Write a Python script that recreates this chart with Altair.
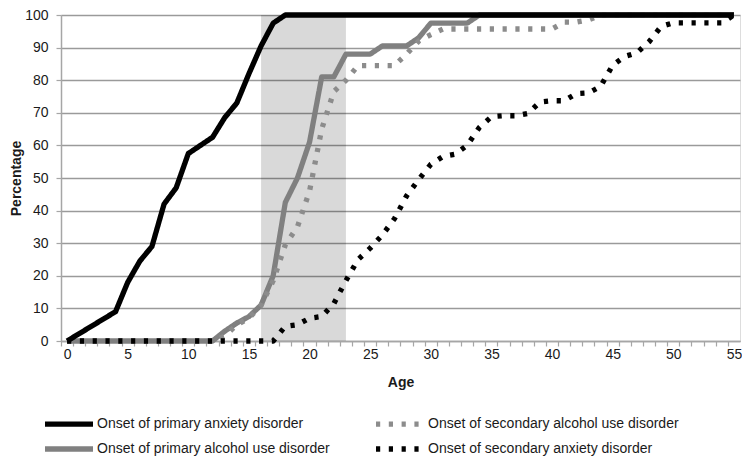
import altair as alt
import pandas as pd

# ---- data ----
SERIES = [
    "Onset of primary anxiety disorder",
    "Onset of primary alcohol use disorder",
    "Onset of secondary alcohol use disorder",
    "Onset of secondary anxiety disorder",
]
COLORS = ["#000000", "#808080", "#8c8c8c", "#000000"]
DASHES = [[1, 0], [1, 0], [4.2, 8.6], [4.2, 8.6]]

pa_age = [0, 4, 5, 6, 7, 8, 9, 10, 12, 13, 14, 15, 16, 17, 18, 55]
pa_val = [0, 9, 18, 24.5, 29, 42, 47, 57.5, 62.5, 68.5, 73, 82, 90.5, 97.5, 100, 100]

pal_age = [0, 12, 13, 14, 15, 16, 17, 18, 19, 20, 21, 22, 23, 25, 26, 28, 29, 30, 33, 34, 55]
pal_val = [0, 0, 3, 5.5, 7.5, 11, 20, 42.5, 50, 61, 81, 81, 88, 88, 90.5, 90.5, 93, 97.5, 97.5, 100, 100]

sal_age = [0, 12, 13, 14, 15, 16, 17, 18, 19, 20, 21, 22, 23, 24, 27, 28, 29, 30, 31, 40, 41, 42, 43, 44, 55]
sal_val = [0, 0, 1.5, 5, 7, 11, 18.5, 29.5, 35, 46, 65, 76.5, 80, 84.5, 84.5, 88, 92, 94, 95.7, 95.7, 97.8, 97.8, 98.5, 100, 100]

san_age = [0, 17, 18, 19, 20, 21, 22, 23, 24, 25, 26, 27, 28, 29, 30, 31, 32, 33, 34, 35, 36, 37, 38, 39,
           40, 41, 42, 43, 44, 45, 46, 47, 48, 49, 50, 54, 55]
san_val = [0, 0, 4.5, 5, 7, 7.5, 11.5, 18.5, 25, 28.5, 32.5, 37.5, 44.5, 49.5, 54.2, 56.6, 57.3, 60, 65.5,
           68.8, 69.1, 69.1, 69.8, 73.3, 73.7, 73.7, 75.9, 76.1, 78.1, 84.6, 87.3, 88.4, 91.8, 96.5, 97.6,
           97.6, 100]

band_start = [16]
band_end = [23]

x_ticks = list(range(0, 57))
y_ticks = list(range(0, 101, 10))

# ---- build tables (draw order: gray first, black on top) ----
rows = []
for name, ages, vals in [
    (SERIES[1], pal_age, pal_val),
    (SERIES[2], sal_age, sal_val),
    (SERIES[0], pa_age, pa_val),
    (SERIES[3], san_age, san_val),
]:
    for a, v in zip(ages, vals):
        rows.append({"series": name, "age": a, "pct": v})
df = pd.DataFrame(rows)
band = pd.DataFrame({"start": band_start, "end": band_end})

W, H = 679, 326
FONT = "Liberation Sans"
AX = "#a6a6a6"
TXT = "#1a1a1a"

x_scale = alt.Scale(domain=[-0.5, 55.5], nice=False, zero=False)
y_scale = alt.Scale(domain=[0, 100], nice=False)

x_axis = alt.Axis(
    values=x_ticks,
    labelExpr="datum.value % 5 === 0 && datum.value <= 55 ? datum.label : ''",
    tickOffset=-6.1, labelOffset=6.1,
    grid=False, tickSize=5, tickColor=AX, domainColor=AX, domainWidth=1.5, tickWidth=1.2,
    labelFontSize=14, labelPadding=1, labelOverlap=False, labelFont=FONT, labelColor=TXT,
    title="Age", titleFontSize=14, titleFont=FONT, titleFontWeight="bold", titlePadding=14,
    titleColor=TXT,
)
y_axis = alt.Axis(
    values=y_ticks, grid=True, gridColor="#9a9a9a", gridWidth=1.3, labelOverlap=False,
    tickSize=5, tickColor=AX, domainColor=AX, domainWidth=1.5, tickWidth=1.2,
    labelFontSize=14, labelPadding=8, labelFont=FONT, labelColor=TXT,
    title="Percentage", titleFontSize=14, titleFont=FONT, titleFontWeight="bold", titlePadding=1,
    titleColor=TXT,
)

legend = alt.Legend(
    title=None, orient="none", legendX=-1, legendY=400, columns=2,
    symbolType="M-4,0H4", symbolSize=144, symbolStrokeWidth=5.3,
    labelFontSize=14, labelFont=FONT, labelColor=TXT, labelLimit=400,
    labelOffset=19, columnPadding=35, rowPadding=3,
)

band_layer = alt.Chart(band).mark_rect(color="black", opacity=0.15).encode(
    x=alt.X("start:Q", scale=x_scale, axis=x_axis),
    x2="end:Q",
    y=alt.datum(0, scale=y_scale, axis=y_axis),
    y2=alt.datum(100),
)

lines = alt.Chart(df).mark_line(strokeWidth=5.3, strokeCap="butt", strokeJoin="round").encode(
    x=alt.X("age:Q", scale=x_scale, axis=x_axis),
    y=alt.Y("pct:Q", scale=y_scale, axis=y_axis),
    color=alt.Color("series:N", scale=alt.Scale(domain=SERIES, range=COLORS), legend=legend),
    strokeDash=alt.StrokeDash("series:N", scale=alt.Scale(domain=SERIES, range=DASHES), legend=legend),
)

chart = alt.layer(band_layer, lines).properties(
    width=W, height=H,
    autosize=alt.AutoSizeParams(type="none"),
    padding={"left": 53, "top": 7, "right": 2, "bottom": 116},
).configure_view(stroke=None).configure(font=FONT)

chart.save("out.html", embed_options={"renderer": "svg", "actions": False})
